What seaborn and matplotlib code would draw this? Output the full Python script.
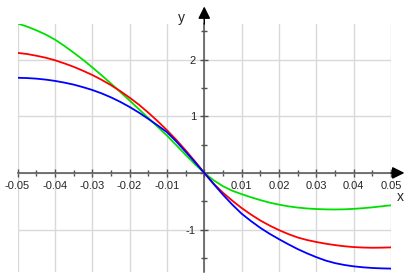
import numpy as np
import pandas as pd
import matplotlib
matplotlib.use("Agg")
import matplotlib.pyplot as plt
import matplotlib.ticker as mticker
import seaborn as sns

# ─── Datos (paso 0.0025) ─────────────────────────────────────────────────────
x_vals = [-0.05, -0.0475, -0.045, -0.0425, -0.04, -0.0375, -0.035, -0.0325, -0.03, -0.0275,
          -0.025, -0.0225, -0.02, -0.0175, -0.015, -0.0125, -0.01, -0.0075, -0.005, -0.0025,
          0.0, 0.0025, 0.005, 0.0075, 0.01, 0.0125, 0.015, 0.0175, 0.02, 0.0225,
          0.025, 0.0275, 0.03, 0.0325, 0.035, 0.0375, 0.04, 0.0425, 0.045, 0.0475, 0.05]

verde = [2.64, 2.585, 2.52, 2.445, 2.355, 2.245, 2.125, 2.0, 1.865, 1.725,
         1.58, 1.43, 1.28, 1.125, 0.97, 0.815, 0.66, 0.49, 0.32, 0.155,
         0.0, -0.13, -0.235, -0.315, -0.375, -0.43, -0.48, -0.525, -0.56, -0.59,
         -0.612, -0.628, -0.638, -0.644, -0.646, -0.643, -0.635, -0.623, -0.608, -0.59, -0.572]

rojo = [2.12, 2.10, 2.07, 2.035, 1.99, 1.935, 1.875, 1.805, 1.73, 1.645,
        1.55, 1.445, 1.33, 1.205, 1.065, 0.915, 0.755, 0.585, 0.40, 0.205,
        0.0, -0.19, -0.35, -0.49, -0.62, -0.735, -0.84, -0.93, -1.01, -1.08,
        -1.14, -1.185, -1.22, -1.25, -1.275, -1.295, -1.31, -1.318, -1.322, -1.32, -1.315]

azul = [1.68, 1.675, 1.665, 1.648, 1.625, 1.595, 1.56, 1.515, 1.465, 1.405,
        1.335, 1.255, 1.165, 1.065, 0.955, 0.84, 0.72, 0.555, 0.375, 0.19,
        0.0, -0.195, -0.385, -0.56, -0.72, -0.85, -0.97, -1.075, -1.17, -1.26,
        -1.345, -1.42, -1.488, -1.548, -1.593, -1.626, -1.65, -1.667, -1.679, -1.686, -1.69]

curvas = ["verde", "rojo", "azul"]
colores = {"verde": "#00e000", "rojo": "#ff0000", "azul": "#0000ff"}

df = pd.concat([
    pd.DataFrame({"x": x_vals, "y": verde, "curva": "verde"}),
    pd.DataFrame({"x": x_vals, "y": rojo, "curva": "rojo"}),
    pd.DataFrame({"x": x_vals, "y": azul, "curva": "azul"}),
])

# ─── Estilo ───────────────────────────────────────────────────────────────────
sns.set_theme(style="white")
plt.rcParams["font.family"] = ["Liberation Sans", "DejaVu Sans"]
plt.rcParams["axes.unicode_minus"] = False

fig = plt.figure(figsize=(4.15, 2.76), dpi=100)
ax = fig.add_axes([0.0422, 0.0145, 0.900, 0.8986])

sns.lineplot(data=df, x="x", y="y", hue="curva", hue_order=curvas,
             palette=colores, legend=False, ax=ax, linewidth=1.3, zorder=3)

ax.set_xlim(-0.05, 0.05)
ax.set_ylim(-1.75, 2.63)
ax.set_xlabel("")
ax.set_ylabel("")

# Ejes que pasan por el origen
eje = "#505050"
for s in ["top", "right"]:
    ax.spines[s].set_visible(False)
for s in ["left", "bottom"]:
    ax.spines[s].set_position(("data", 0))
    ax.spines[s].set_color(eje)
    ax.spines[s].set_linewidth(1.1)

ax.xaxis.set_major_locator(mticker.MultipleLocator(0.01))
ax.xaxis.set_minor_locator(mticker.MultipleLocator(0.005))
ax.yaxis.set_major_locator(mticker.MultipleLocator(1))
ax.yaxis.set_minor_locator(mticker.MultipleLocator(0.5))
ax.xaxis.set_major_formatter(mticker.FuncFormatter(
    lambda v, p: "" if abs(v) < 1e-9 else f"{v:.2f}"))
ax.yaxis.set_major_formatter(mticker.FuncFormatter(
    lambda v, p: "" if abs(v) < 1e-9 else f"{v:.0f}"))

ax.tick_params(which="major", direction="inout", length=6, width=1, color=eje,
               labelsize=8, pad=3, bottom=True, left=True)
ax.tick_params(which="minor", direction="inout", length=4, width=1, color=eje,
               bottom=True, left=True)

ax.grid(True, which="major", color="#d9d9d9", linewidth=1)
ax.set_axisbelow(True)

# Flechas
ax.annotate("", xy=(0.0536, 0), xytext=(0.05, 0), annotation_clip=False,
            arrowprops=dict(arrowstyle="-|>", color="black", lw=1.1,
                            mutation_scale=18, shrinkA=0, shrinkB=0))
ax.annotate("", xy=(0, 2.94), xytext=(0, 2.63), annotation_clip=False,
            arrowprops=dict(arrowstyle="-|>", color="black", lw=1.1,
                            mutation_scale=18, shrinkA=0, shrinkB=0))

ax.text(0.0526, -0.43, "x", fontsize=10, ha="center", va="center", clip_on=False)
ax.text(-0.0062, 2.73, "y", fontsize=10, ha="center", va="center", clip_on=False)

fig.savefig("out.png", dpi=100)
